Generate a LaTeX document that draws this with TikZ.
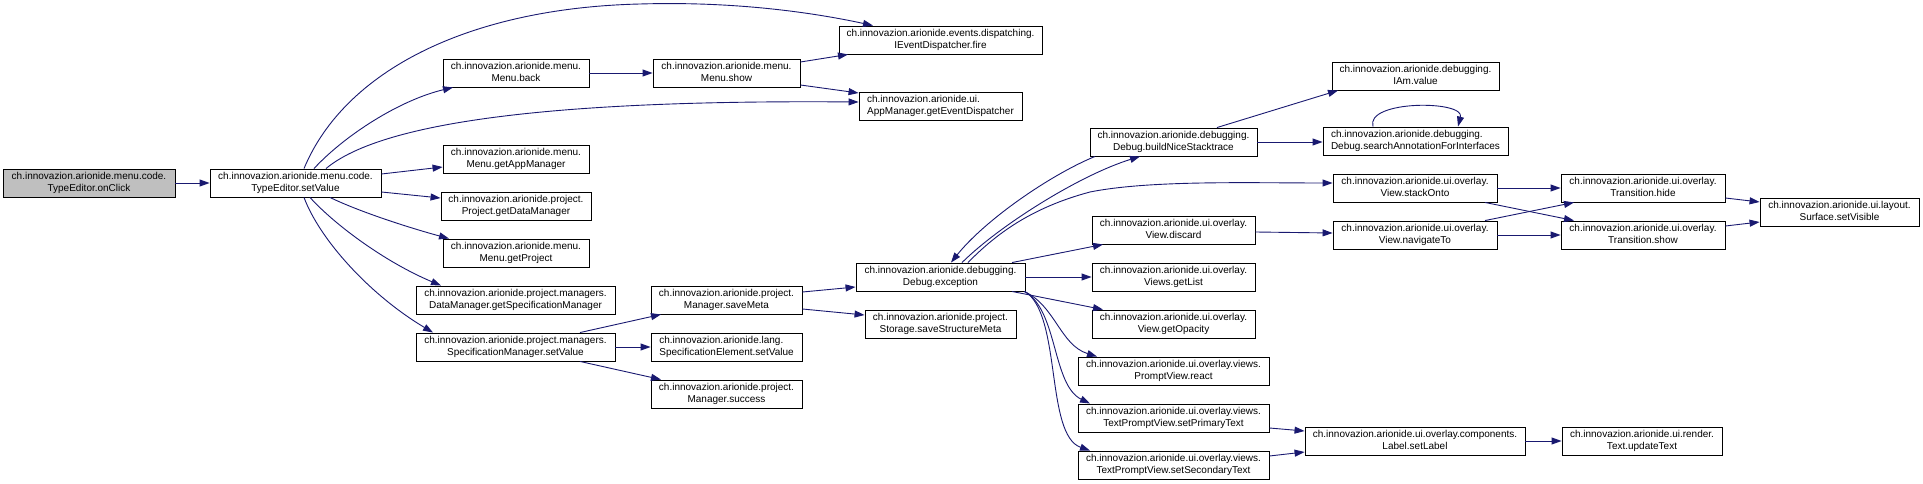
\documentclass[tikz,border=0pt]{standalone}
\usepackage{fontspec}
\setmainfont{Liberation Sans}
\usetikzlibrary{arrows.meta,calc}
\definecolor{edgeblue}{HTML}{191970}
\definecolor{nodegray}{HTML}{BFBFBF}
\newsavebox\twolA
\newsavebox\twolB
\newcommand\twol[2]{\sbox\twolA{#1}\sbox\twolB{#2}\begin{tabular}{@{}c@{}}\ifdim\wd\twolA<\wd\twolB\makebox[\wd\twolB][l]{#1}\else #1\fi\\#2\end{tabular}}
\begin{document}
\begin{tikzpicture}[x=1pt,y=-1pt,
  box/.style={draw=black, line width=0.9pt, fill=white, minimum height=28pt, inner sep=0pt,
    font=\fontsize{10}{11.5}\selectfont},
  startbox/.style={box, fill=nodegray},
  edge/.style={draw=edgeblue, line width=0.9pt, -{Triangle[length=10pt,width=7pt]}}]
\useasboundingbox (0,0) rectangle (1923,484);

% column 0 / 1
\node[startbox, minimum width=172pt] (onClick) at (89,183) {\twol{ch.innovazion.arionide.menu.code.}{TypeEditor.onClick}};
\node[box, minimum width=171pt] (setValue) at (295.5,183) {\twol{ch.innovazion.arionide.menu.code.}{TypeEditor.setValue}};
% column 2
\node[box, minimum width=146pt] (back) at (516,73) {\twol{ch.innovazion.arionide.menu.}{Menu.back}};
\node[box, minimum width=146pt] (getAppMgr) at (516,159) {\twol{ch.innovazion.arionide.menu.}{Menu.getAppManager}};
\node[box, minimum width=150pt] (getDataMgr) at (516,206) {\twol{ch.innovazion.arionide.project.}{Project.getDataManager}};
\node[box, minimum width=146pt] (getProject) at (516,253) {\twol{ch.innovazion.arionide.menu.}{Menu.getProject}};
\node[box, minimum width=199pt] (getSpecMgr) at (515.5,300) {\twol{ch.innovazion.arionide.project.managers.}{DataManager.getSpecificationManager}};
\node[box, minimum width=199pt] (specSetValue) at (515.5,347) {\twol{ch.innovazion.arionide.project.managers.}{SpecificationManager.setValue}};
% column 3
\node[box, minimum width=147pt] (show) at (726.5,73) {\twol{ch.innovazion.arionide.menu.}{Menu.show}};
\node[box, minimum width=151pt] (saveMeta) at (726.5,300) {\twol{ch.innovazion.arionide.project.}{Manager.saveMeta}};
\node[box, minimum width=151pt] (elemSetValue) at (726.5,347) {\twol{ch.innovazion.arionide.lang.}{SpecificationElement.setValue}};
\node[box, minimum width=151pt] (success) at (726.5,394) {\twol{ch.innovazion.arionide.project.}{Manager.success}};
% column 4
\node[box, minimum width=203pt] (fire) at (940.5,40) {\twol{ch.innovazion.arionide.events.dispatching.}{IEventDispatcher.fire}};
\node[box, minimum width=163pt] (getED) at (940.5,106) {\twol{ch.innovazion.arionide.ui.}{AppManager.getEventDispatcher}};
\node[box, minimum width=169pt] (exception) at (940.5,277) {\twol{ch.innovazion.arionide.debugging.}{Debug.exception}};
\node[box, minimum width=151pt] (saveSM) at (940.5,324) {\twol{ch.innovazion.arionide.project.}{Storage.saveStructureMeta}};
% column 5
\node[box, minimum width=167pt] (buildNice) at (1173.5,142) {\twol{ch.innovazion.arionide.debugging.}{Debug.buildNiceStacktrace}};
\node[box, minimum width=163pt] (discard) at (1173.5,230) {\twol{ch.innovazion.arionide.ui.overlay.}{View.discard}};
\node[box, minimum width=163pt] (getList) at (1173.5,277) {\twol{ch.innovazion.arionide.ui.overlay.}{Views.getList}};
\node[box, minimum width=163pt] (getOpacity) at (1173.5,324) {\twol{ch.innovazion.arionide.ui.overlay.}{View.getOpacity}};
\node[box, minimum width=191pt] (react) at (1173.5,371) {\twol{ch.innovazion.arionide.ui.overlay.views.}{PromptView.react}};
\node[box, minimum width=191pt] (primary) at (1173.5,418) {\twol{ch.innovazion.arionide.ui.overlay.views.}{TextPromptView.setPrimaryText}};
\node[box, minimum width=191pt] (secondary) at (1173.5,465) {\twol{ch.innovazion.arionide.ui.overlay.views.}{TextPromptView.setSecondaryText}};
% column 6
\node[box, minimum width=167pt] (IAm) at (1415.5,76) {\twol{ch.innovazion.arionide.debugging.}{IAm.value}};
\node[box, minimum width=185pt] (searchAnn) at (1415.5,141) {\twol{ch.innovazion.arionide.debugging.}{Debug.searchAnnotationForInterfaces}};
\node[box, minimum width=164pt] (stackOnto) at (1415,188) {\twol{ch.innovazion.arionide.ui.overlay.}{View.stackOnto}};
\node[box, minimum width=164pt] (navigateTo) at (1415,235) {\twol{ch.innovazion.arionide.ui.overlay.}{View.navigateTo}};
\node[box, minimum width=220pt] (Label) at (1415,441) {\twol{ch.innovazion.arionide.ui.overlay.components.}{Label.setLabel}};
% column 7
\node[box, minimum width=164pt] (hide) at (1643,188) {\twol{ch.innovazion.arionide.ui.overlay.}{Transition.hide}};
\node[box, minimum width=164pt] (tshow) at (1643,235) {\twol{ch.innovazion.arionide.ui.overlay.}{Transition.show}};
\node[box, minimum width=160pt] (updateText) at (1642,441) {\twol{ch.innovazion.arionide.ui.render.}{Text.updateText}};
% column 8
\node[box, minimum width=159pt] (setVisible) at (1839.5,212) {\twol{ch.innovazion.arionide.ui.layout.}{Surface.setVisible}};

% edges
\draw[edge] (onClick.east) -- (setValue.west);
\draw[edge] ($(setValue.north)+(8.5,0)$) .. controls (345,70) and (470,8) .. (640,4) .. controls (740,1) and (820,14) .. ($(fire.north)+(-67.5,0)$);
\draw[edge] ($(setValue.north)+(18.5,0)$) .. controls (345,135) and (400,100) .. ($(back.south)+(-63,0)$);
\draw[edge] ($(setValue.north)+(30.5,0)$) .. controls (390,115) and (600,100) .. ($(getED.west)+(0,-4)$);
\draw[edge] ($(setValue.east)+(0,-9)$) -- ($(getAppMgr.west)+(0,8)$);
\draw[edge] ($(setValue.east)+(0,9)$) -- ($(getDataMgr.west)+(0,-8)$);
\draw[edge] ($(setValue.south)+(34.5,0)$) .. controls (360,212) and (410,228) .. ($(getProject.north)+(-67,0)$);
\draw[edge] ($(setValue.south)+(14.5,0)$) .. controls (335,225) and (385,262) .. ($(getSpecMgr.north)+(-74.5,0)$);
\draw[edge] ($(setValue.south)+(8.5,0)$) .. controls (320,240) and (370,295) .. ($(specSetValue.north)+(-82.5,0)$);
\draw[edge] (back.east) -- (show.west);
\draw[edge] ($(show.east)+(0,-11)$) -- ($(fire.south)+(-92.5,0)$);
\draw[edge] ($(show.east)+(0,12)$) -- ($(getED.west)+(0,-13)$);
\draw[edge] ($(specSetValue.north)+(64.5,0)$) -- ($(saveMeta.south)+(-65.5,0)$);
\draw[edge] (specSetValue.east) -- (elemSetValue.west);
\draw[edge] ($(specSetValue.south)+(64.5,0)$) -- ($(success.north)+(-65.5,0)$);
\draw[edge] ($(saveMeta.east)+(0,-8)$) -- ($(exception.west)+(0,10)$);
\draw[edge] ($(saveMeta.east)+(0,9)$) -- ($(saveSM.west)+(0,-9)$);
\draw[edge] ($(exception.north)+(21.5,0)$) .. controls (1000,225) and (1080,175) .. ($(buildNice.south)+(-33.5,0)$);
\draw[edge] ($(buildNice.south)+(-78.5,0)$) .. controls (1050,175) and (985,220) .. ($(exception.north)+(10.5,0)$);
\draw[edge] ($(exception.north)+(27.5,0)$) .. controls (995,235) and (1030,208) .. (1090,192) .. controls (1150,180) and (1250,183) .. ($(stackOnto.west)+(0,-5)$);
\draw[edge] ($(exception.north)+(71.5,0)$) -- ($(discard.south)+(-70.5,0)$);
\draw[edge] (exception.east) -- (getList.west);
\draw[edge] ($(exception.south)+(71.5,0)$) -- ($(getOpacity.north)+(-70.5,0)$);
\draw[edge] ($(exception.south)+(83.5,0)$) .. controls (1055,305) and (1060,345) .. ($(react.north)+(-76.5,0)$);
\draw[edge] ($(exception.south)+(84,0)$) .. controls (1058,310) and (1052,385) .. ($(primary.north)+(-83.5,0)$);
\draw[edge] ($(exception.south)+(84.5,0)$) .. controls (1062,315) and (1045,435) .. ($(secondary.north)+(-83.5,0)$);
\draw[edge] ($(buildNice.north)+(43.5,0)$) -- ($(IAm.south)+(-77.5,0)$);
\draw[edge] (buildNice.east) -- (searchAnn.west |- buildNice.east);
\draw[edge] ($(searchAnn.north)+(-42.5,0)$) .. controls (1365,100) and (1465,100) .. ($(searchAnn.north)+(42.5,0)$);
\draw[edge] ($(discard.east)+(0,2)$) -- ($(navigateTo.west)+(0,-2)$);
\draw[edge] (stackOnto.east) -- (hide.west);
\draw[edge] ($(stackOnto.south)+(70,0)$) -- ($(tshow.north)+(-69,0)$);
\draw[edge] ($(navigateTo.north)+(70,0)$) -- ($(hide.south)+(-69,0)$);
\draw[edge] (navigateTo.east) -- (tshow.west);
\draw[edge] ($(hide.east)+(0,10)$) -- ($(setVisible.west)+(0,-10)$);
\draw[edge] ($(tshow.east)+(0,-9)$) -- ($(setVisible.west)+(0,10)$);
\draw[edge] ($(primary.east)+(0,10)$) -- ($(Label.west)+(0,-10)$);
\draw[edge] ($(secondary.east)+(0,-9)$) -- ($(Label.west)+(0,11)$);
\draw[edge] (Label.east) -- (updateText.west);
\end{tikzpicture}
\end{document}
